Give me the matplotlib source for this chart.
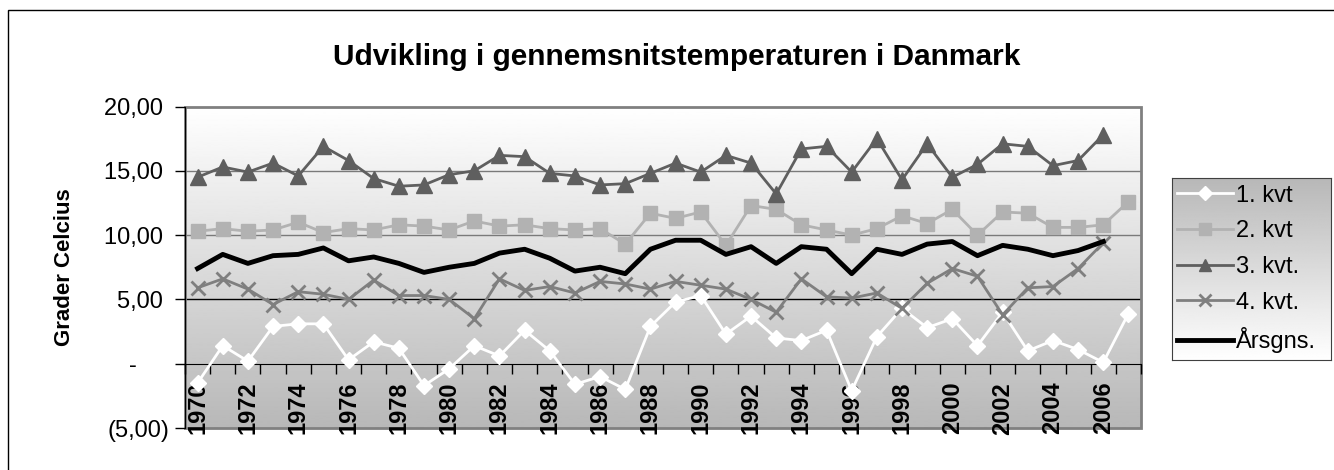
import numpy as np
import matplotlib
matplotlib.use("Agg")
import matplotlib.pyplot as plt
from matplotlib.patches import Rectangle

plt.rcParams["font.family"] = ["Liberation Sans", "DejaVu Sans"]

years = list(range(1970, 2008))
nan = np.nan

q1 = [-1.5, 1.4, 0.2, 2.9, 3.1, 3.1, 0.3, 1.7, 1.2, -1.7,
      -0.4, 1.4, 0.6, 2.6, 1.0, -1.6, -1.0, -2.0, 2.9, 4.8,
      5.3, 2.3, 3.7, 2.0, 1.8, 2.6, -2.1, 2.1, 4.3, 2.8,
      3.5, 1.4, 4.0, 1.0, 1.8, 1.1, 0.1, 3.9]
q2 = [10.3, 10.5, 10.3, 10.4, 11.0, 10.2, 10.5, 10.4, 10.8, 10.7,
      10.4, 11.1, 10.7, 10.8, 10.5, 10.4, 10.5, 9.3, 11.7, 11.3,
      11.8, 9.2, 12.3, 12.0, 10.8, 10.4, 10.0, 10.5, 11.5, 10.9,
      12.0, 10.0, 11.8, 11.7, 10.6, 10.6, 10.8, 12.6]
q3 = [14.5, 15.3, 14.9, 15.6, 14.6, 16.9, 15.8, 14.4, 13.8, 13.9,
      14.7, 15.0, 16.2, 16.1, 14.8, 14.6, 13.9, 14.0, 14.8, 15.6,
      14.9, 16.2, 15.6, 13.2, 16.7, 16.9, 14.9, 17.5, 14.3, 17.1,
      14.5, 15.5, 17.1, 16.9, 15.4, 15.8, 17.8, nan]
q4 = [5.9, 6.6, 5.8, 4.6, 5.6, 5.4, 5.0, 6.5, 5.3, 5.3,
      5.0, 3.5, 6.6, 5.7, 6.0, 5.5, 6.4, 6.2, 5.8, 6.4,
      6.1, 5.8, 5.0, 4.0, 6.6, 5.2, 5.1, 5.5, 4.3, 6.25,
      7.4, 6.8, 3.8, 5.9, 6.0, 7.4, 9.4, nan]
annual = [7.4, 8.5, 7.8, 8.4, 8.5, 9.0, 8.0, 8.3, 7.8, 7.1,
          7.5, 7.8, 8.6, 8.9, 8.2, 7.2, 7.5, 7.0, 8.9, 9.6,
          9.6, 8.5, 9.1, 7.8, 9.1, 8.9, 7.0, 8.9, 8.5, 9.3,
          9.5, 8.4, 9.2, 8.9, 8.4, 8.8, 9.5, nan]

y_ticks = [-5, 0, 5, 10, 15, 20]
# accounting style labels, padded so the digits line up like in excel
y_tick_labels = ["(5,00)", "-\u2007\u2007 ", "5,00 ", "10,00 ", "15,00 ", "20,00 "]

title = "Udvikling i gennemsnitstemperaturen i Danmark"
ylabel = "Grader Celcius"

W, H = 1334, 470
fig = plt.figure(figsize=(W / 100, H / 100), dpi=100)

# outer chart frame (runs off the right/bottom edge like the reference)
fig.patches.append(Rectangle((8 / W, -0.2), 1.3, 1.2 - 10 / H, transform=fig.transFigure,
                             fill=False, edgecolor="black", lw=1))

ax = fig.add_axes([185 / W, 1 - 428 / H, (1141 - 185) / W, (428 - 106.5) / H])
x = np.arange(len(years))

# gradient background white -> gray
grad = np.linspace(1.0, 0.72, 256).reshape(-1, 1)
ax.imshow(grad, extent=[0, 1, 0, 1], transform=ax.transAxes, cmap="gray",
          vmin=0, vmax=1, aspect="auto", zorder=0)

for yv, c in [(5, "black"), (10, "#7a7a7a"), (15, "#7a7a7a")]:
    ax.axhline(yv, color=c, lw=1, zorder=1)

ax.plot(x, q1, color="white", lw=2, marker="D", ms=8, mec="white", label="1. kvt", zorder=3)
ax.plot(x, q2, color="#b2b2b2", lw=2, marker="s", ms=10, label="2. kvt", zorder=3)
ax.plot(x, q3, color="#5f5f5f", lw=2, marker="^", ms=11, label="3. kvt.", zorder=3)
ax.plot(x, q4, color="#7f7f7f", lw=2, marker="x", ms=10, mew=2, label="4. kvt.", zorder=3)
ax.plot(x, annual, color="black", lw=3.5, label="Årsgns.", zorder=4)

ax.set_xlim(-0.5, len(years) - 0.5)
ax.set_ylim(-5, 20)

# frame
for s in ["top", "right"]:
    ax.spines[s].set_visible(False)
ax.spines["left"].set_color("black")
ax.spines["bottom"].set_position(("data", 0))
ax.spines["bottom"].set_color("black")
ax.add_patch(Rectangle((0, 0), 1, 1, transform=ax.transAxes, fill=False,
                       edgecolor="#808080", lw=2, zorder=1.5, clip_on=False))

ax.set_yticks(y_ticks)
ax.set_yticklabels(y_tick_labels, fontsize=17)
ax.tick_params(axis="y", direction="out", length=7, width=1, pad=4)

ax.set_xticks(np.arange(-0.5, len(years), 1.0))
ax.set_xticklabels([])
ax.tick_params(axis="x", which="major", direction="out", length=7, width=1)
ax.set_xticks(x[::2], minor=True)
ax.set_xticklabels([str(y) for y in years[::2]], minor=True, rotation=90,
                   fontsize=17, fontweight="bold", va="top")
ax.tick_params(axis="x", which="minor", length=0, pad=13)

fig.text(677 / W, 1 - 57 / H, title, ha="center", va="center", fontsize=21.5, fontweight="bold")
fig.text(65 / W, 1 - 267 / H, ylabel, ha="center", va="center", rotation=90,
         fontsize=16, fontweight="bold")

# legend with its own gradient box
lax = fig.add_axes([1172 / W, 1 - 360 / H, (1331 - 1172) / W, (360 - 178) / H])
lax.imshow(np.linspace(0.72, 1.0, 256).reshape(-1, 1), extent=[0, 1, 0, 1], cmap="gray",
           vmin=0, vmax=1, aspect="auto")
lax.set_xlim(0, 1)
lax.set_ylim(0, 1)
lax.set_xticks([])
lax.set_yticks([])
for s in lax.spines.values():
    s.set_color("#404040")
handles, labels = ax.get_legend_handles_labels()
lax.legend(handles, labels, loc="center left", frameon=False, fontsize=17,
           handlelength=2.4, handletextpad=0.1, labelspacing=0.58, borderpad=0.1,
           borderaxespad=0.1, markerscale=0.85)

fig.savefig("out.png", dpi=100)
